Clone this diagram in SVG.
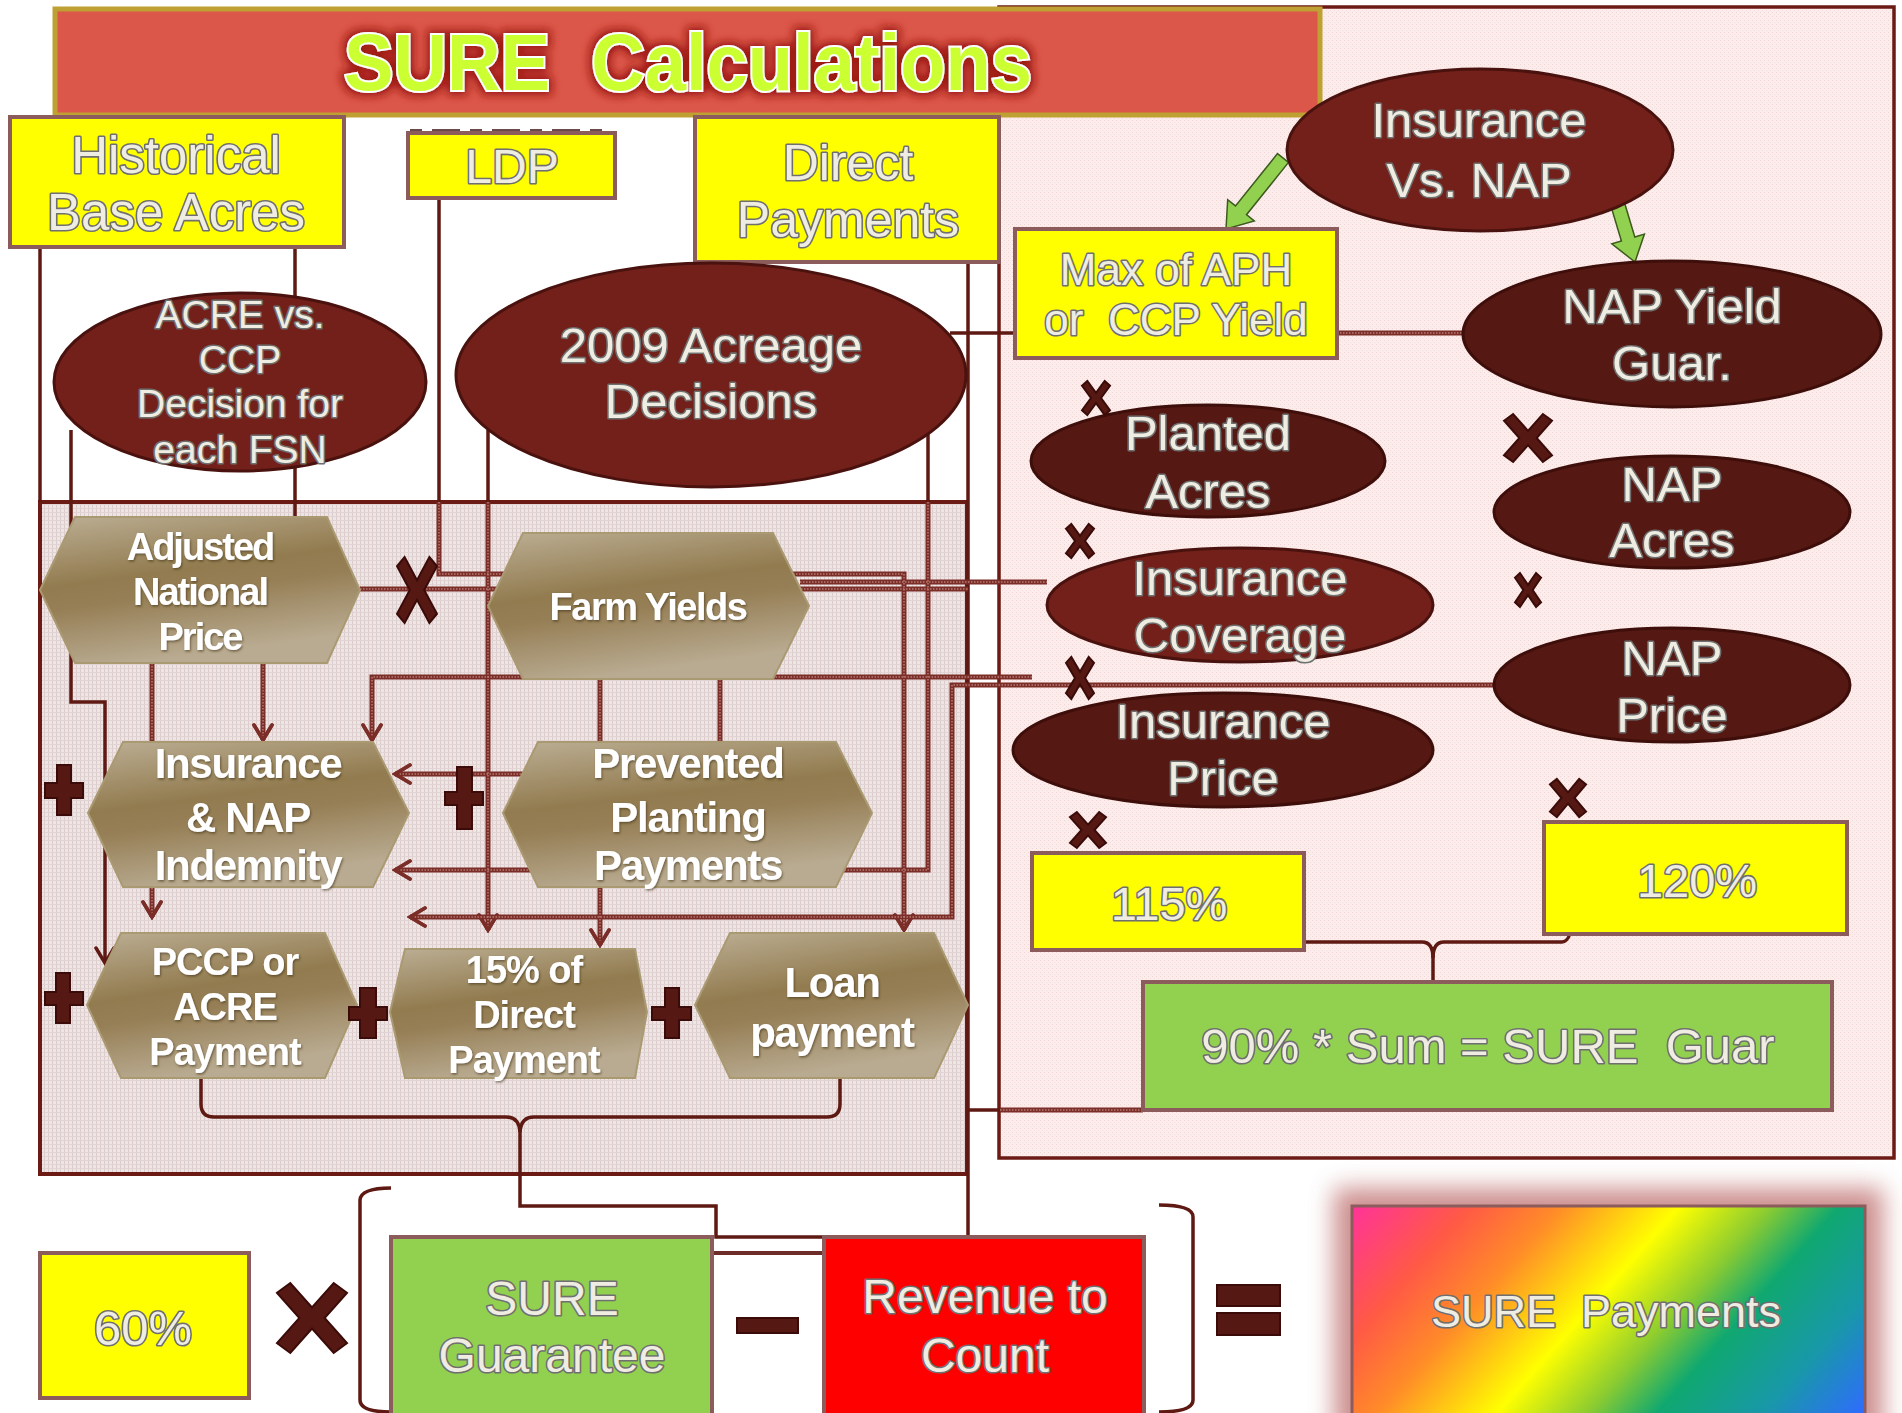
<svg xmlns="http://www.w3.org/2000/svg" xmlns:xlink="http://www.w3.org/1999/xlink" width="1902" height="1413" viewBox="0 0 1902 1413">
<defs>
<style>
.lt{font-family:"Liberation Sans",Arial,sans-serif;fill:#EFECE2;stroke:#6F6F6F;stroke-width:3.2;paint-order:stroke;stroke-linejoin:round;text-anchor:middle}
.ht{font-family:"Liberation Sans",Arial,sans-serif;font-weight:bold;fill:#FFFFFF;text-anchor:middle}
.yb{fill:#FFFF00;stroke:#8C5C5C;stroke-width:4}
.gb{fill:#92D050;stroke:#8C5C5C;stroke-width:4}
.e1{fill:#73201A;stroke:#4A120E;stroke-width:3}
.e2{fill:#561812;stroke:#3E0E0A;stroke-width:3}
.hx{fill:url(#hg);stroke:#AA9A72;stroke-width:2}
.cs{fill:none;stroke:#5E1913;stroke-width:3.5}
.mk{fill:#561812;stroke:#3A0B08;stroke-width:2}
.ga{fill:#92D050;stroke:#3D5A1E;stroke-width:1.5}
</style>
<pattern id="gp" width="4" height="4" patternUnits="userSpaceOnUse">
<rect width="4" height="4" fill="#EEE5E5"/><rect width="1" height="4" fill="#DCCBCB"/><rect width="4" height="1" fill="#E2D4D4"/>
</pattern>
<pattern id="pp" width="4" height="4" patternUnits="userSpaceOnUse">
<rect width="4" height="4" fill="#FCEDEC"/><rect width="1" height="1" fill="#EFD5D3"/><rect x="2" y="2" width="1" height="1" fill="#F3DDDB"/>
</pattern>
<linearGradient id="hg" x1="0" y1="0" x2="0.3" y2="1">
<stop offset="0" stop-color="#BCAF95"/><stop offset="0.45" stop-color="#927B4F"/><stop offset="0.6" stop-color="#967F56"/><stop offset="1" stop-color="#B9AB91"/>
</linearGradient>
<linearGradient id="rb" gradientUnits="userSpaceOnUse" x1="1352" y1="1206" x2="1743" y2="1552">
<stop offset="0" stop-color="#FF3399"/><stop offset="0.17" stop-color="#FF5A45"/><stop offset="0.3" stop-color="#FF8C28"/><stop offset="0.47" stop-color="#FFFF00"/><stop offset="0.6" stop-color="#8CCC30"/><stop offset="0.7" stop-color="#10A870"/><stop offset="0.85" stop-color="#1898A8"/><stop offset="1" stop-color="#2F6BFF"/>
</linearGradient>
<filter id="glow" x="-10%" y="-40%" width="120%" height="180%">
<feMorphology in="SourceAlpha" operator="dilate" radius="3" result="d"/>
<feGaussianBlur in="d" stdDeviation="4" result="b"/>
<feFlood flood-color="#9A1510" flood-opacity="0.95"/>
<feComposite in2="b" operator="in" result="g"/>
<feMerge><feMergeNode in="g"/><feMergeNode in="SourceGraphic"/></feMerge>
</filter>
<filter id="sh" x="-10%" y="-10%" width="120%" height="130%">
<feDropShadow dx="1" dy="1.5" stdDeviation="0.8" flood-color="#3A2A10" flood-opacity="0.6"/>
</filter>
<filter id="blur" x="-20%" y="-20%" width="140%" height="140%"><feGaussianBlur stdDeviation="12"/></filter>
<marker id="ar" viewBox="0 0 22 22" refX="19" refY="11" markerWidth="22" markerHeight="22" markerUnits="userSpaceOnUse" orient="auto">
<path d="M4,2 L19,11 L4,20" fill="none" stroke="#7B2D28" stroke-width="3.5" stroke-linecap="round"/>
</marker>
<marker id="ard" viewBox="0 0 22 22" refX="19" refY="11" markerWidth="22" markerHeight="22" markerUnits="userSpaceOnUse" orient="auto">
<path d="M4,2 L19,11 L4,20" fill="none" stroke="#5E1913" stroke-width="3.5" stroke-linecap="round"/>
</marker>
<path id="mx" vector-effect="non-scaling-stroke" d="M-1,-0.72 L-0.62,-1 L0,-0.3 L0.62,-1 L1,-0.72 L0.36,0 L1,0.72 L0.62,1 L0,0.3 L-0.62,1 L-1,0.72 L-0.36,0 Z"/>
<g id="plines" fill="none">
<path d="M439,502 V574 H904 V930" marker-end="url(#ar)"/>
<path d="M488,502 V930" marker-end="url(#ar)"/>
<path d="M928,502 V870 H395" marker-end="url(#ar)"/>
<path d="M360,589 H968"/>
<path d="M800,582 H1047"/>
<path d="M1032,677 H372 V740" marker-end="url(#ar)"/>
<path d="M1495,685 H952 V917 H410" marker-end="url(#ar)"/>
<path d="M560,774 H395" marker-end="url(#ar)"/>
<path d="M263,663 V740" marker-end="url(#ar)"/>
<path d="M152,663 V917" marker-end="url(#ar)"/>
<path d="M600,679 V945" marker-end="url(#ar)"/>
<path d="M720,679 V742"/>
<path d="M1337,333 H1463"/>
<path d="M1000,1110 H1143"/>
</g>
</defs>

<rect width="1902" height="1413" fill="#FFFFFF"/>

<g id="panels">
<rect x="999" y="7" width="895" height="1151" fill="url(#pp)" stroke="#6B1A14" stroke-width="3.5"/>
<rect x="40" y="502" width="927" height="672" fill="url(#gp)" stroke="#6B1A14" stroke-width="4"/>
</g>

<g id="connectors">
<path class="cs" d="M40,247 V502"/>
<path class="cs" d="M295,247 V517"/>
<path class="cs" d="M439,198 V502"/>
<path class="cs" d="M488,430 V502"/>
<path class="cs" d="M928,430 V502"/>
<path class="cs" d="M968,262 V1237"/>
<path class="cs" d="M968,1110 H1000"/>
<path class="cs" d="M950,333 H1015"/>
<path class="cs" d="M71,430 V702 H105 V963" marker-end="url(#ard)"/>
<use href="#plines" stroke="#7B2D28" stroke-width="5"/>
<use href="#plines" stroke="#B87A74" stroke-width="1.5" stroke-dasharray="1.5 1.5"/>
<path class="cs" stroke-width="5" d="M201,1078 V1104 Q201,1117 214,1117 H506 Q519,1117 520,1132 Q521,1117 534,1117 H827 Q840,1117 840,1104 V1078"/>
<path class="cs" stroke-width="5" d="M520,1125 V1206 H716 V1237 H872"/>
<path d="M712,1253 H824" stroke="#6E2C28" stroke-width="4" fill="none"/>
<path class="cs" d="M1287,902 Q1289,942 1300,942 H1422 Q1433,942 1433,958 Q1433,942 1444,942 H1562 Q1573,942 1575,902"/>
<path class="cs" d="M1433,950 V983"/>
<path class="cs" d="M391,1188 Q361,1188 360,1200 V1400 Q360,1412 391,1412"/>
<path class="cs" d="M1159,1205 Q1193,1205 1193,1217 V1400 Q1193,1412 1159,1412"/>
<path d="M410,131 H612" stroke="#6A4A4A" stroke-width="4" stroke-dasharray="12 10 28 10" fill="none"/>
<polygon class="ga" points="1288.5,162.4 1246.5,214.7 1254.3,220.9 1226,229 1227.7,199.7 1235.5,205.9 1277.5,153.6"/>
<polygon class="ga" points="1614.7,170 1634.8,237 1644.4,234.1 1635,262 1611.8,243.9 1621.4,241 1601.3,174"/>
</g>

<g id="title">
<rect x="55" y="9" width="1265" height="106" fill="#DB5749" stroke="#BFA032" stroke-width="5"/>
<text x="344" y="90" font-family="'Liberation Sans',Arial,sans-serif" font-weight="bold" font-size="80" fill="#CCFF33" stroke="#FFFFFF" stroke-width="4" paint-order="stroke" textLength="688" lengthAdjust="spacingAndGlyphs" filter="url(#glow)" xml:space="preserve">SURE  Calculations</text>
</g>

<g id="historical"><rect class="yb" x="10" y="117" width="334" height="130"/>
<text class="lt" font-size="51" x="176" y="173">Historical</text><text class="lt" font-size="51" x="176" y="230">Base Acres</text></g>

<g id="ldp"><rect class="yb" x="408" y="133" width="207" height="65"/>
<text class="lt" font-size="48" x="512" y="183">LDP</text></g>

<g id="direct"><rect class="yb" x="695" y="117" width="304" height="145"/>
<text class="lt" font-size="50" x="848" y="180">Direct</text><text class="lt" font-size="50" x="848" y="237">Payments</text></g>

<g id="acre"><ellipse class="e1" cx="240" cy="382" rx="186" ry="89"/>
<text class="lt" font-size="39" x="240" y="328">ACRE vs.</text><text class="lt" font-size="39" x="240" y="373">CCP</text><text class="lt" font-size="39" x="240" y="417">Decision for</text><text class="lt" font-size="39" x="240" y="463">each FSN</text></g>

<g id="acreage"><ellipse class="e1" cx="711" cy="375" rx="255" ry="112"/>
<text class="lt" font-size="49" x="711" y="362">2009 Acreage</text><text class="lt" font-size="49" x="711" y="418">Decisions</text></g>

<g id="insvsnap"><ellipse class="e1" cx="1480" cy="150" rx="193" ry="81"/>
<text class="lt" font-size="49" x="1479" y="137">Insurance</text><text class="lt" font-size="49" x="1479" y="197">Vs. NAP</text></g>

<g id="maxaph"><rect class="yb" x="1015" y="229" width="322" height="129"/>
<text class="lt" font-size="44" x="1176" y="285">Max of APH</text><text class="lt" font-size="44" x="1176" y="335" xml:space="preserve">or  CCP Yield</text></g>

<g id="napyield"><ellipse class="e2" cx="1672" cy="334" rx="209" ry="73"/>
<text class="lt" font-size="49" x="1672" y="323">NAP Yield</text><text class="lt" font-size="49" x="1672" y="380">Guar.</text></g>

<g id="planted"><ellipse class="e2" cx="1208" cy="461" rx="177" ry="56"/>
<text class="lt" font-size="49" x="1208" y="450">Planted</text><text class="lt" font-size="49" x="1208" y="508">Acres</text></g>

<g id="napacres"><ellipse class="e2" cx="1672" cy="512" rx="178" ry="56"/>
<text class="lt" font-size="49" x="1672" y="501">NAP</text><text class="lt" font-size="49" x="1672" y="557">Acres</text></g>

<g id="inscov"><ellipse class="e1" cx="1240" cy="605" rx="193" ry="57"/>
<text class="lt" font-size="49" x="1240" y="595">Insurance</text><text class="lt" font-size="49" x="1240" y="652">Coverage</text></g>

<g id="napprice"><ellipse class="e2" cx="1672" cy="685" rx="178" ry="57"/>
<text class="lt" font-size="49" x="1672" y="675">NAP</text><text class="lt" font-size="49" x="1672" y="732">Price</text></g>

<g id="insprice"><ellipse class="e2" cx="1223" cy="750" rx="210" ry="57"/>
<text class="lt" font-size="49" x="1223" y="738">Insurance</text><text class="lt" font-size="49" x="1223" y="795">Price</text></g>

<g id="p115"><rect class="yb" x="1032" y="853" width="272" height="97"/>
<text class="lt" font-size="47" x="1169" y="920">115%</text></g>

<g id="p120"><rect class="yb" x="1544" y="822" width="303" height="112"/>
<text class="lt" font-size="47" x="1697" y="897">120%</text></g>

<g id="sureguar"><rect class="gb" x="1143" y="982" width="689" height="128"/>
<text class="lt" font-size="49" x="1488" y="1063" xml:space="preserve">90% * Sum = SURE  Guar</text></g>

<g id="anp"><polygon class="hx" points="40,590 75,517 327,517 360,590 327,663 75,663"/>
<g class="ht" font-size="38" letter-spacing="-2" filter="url(#sh)"><text x="200" y="560">Adjusted</text><text x="200" y="605">National</text><text x="200" y="650">Price</text></g></g>

<g id="farm"><polygon class="hx" points="488,606 523,533 773,533 809,606 773,679 523,679"/>
<g class="ht" font-size="38" letter-spacing="-1.5" filter="url(#sh)"><text x="648" y="620">Farm Yields</text></g></g>

<g id="indemnity"><polygon class="hx" points="88,813 123,742 373,742 409,813 373,887 123,887"/>
<g class="ht" font-size="42" letter-spacing="-1.3" filter="url(#sh)"><text x="248" y="778">Insurance</text><text x="248" y="832">&amp; NAP</text><text x="248" y="880">Indemnity</text></g></g>

<g id="prevented"><polygon class="hx" points="503,813 538,742 836,742 872,813 836,887 538,887"/>
<g class="ht" font-size="42" letter-spacing="-1.3" filter="url(#sh)"><text x="688" y="778">Prevented</text><text x="688" y="832">Planting</text><text x="688" y="880">Payments</text></g></g>

<g id="pccp"><polygon class="hx" points="87,1005 121,933 325,933 357,1005 325,1078 121,1078"/>
<g class="ht" font-size="38" letter-spacing="-1" filter="url(#sh)"><text x="225" y="975">PCCP or</text><text x="225" y="1020">ACRE</text><text x="225" y="1065">Payment</text></g></g>

<g id="direct15"><polygon class="hx" points="390,1012 405,949 635,949 647,1012 635,1078 405,1078"/>
<g class="ht" font-size="38" letter-spacing="-1" filter="url(#sh)"><text x="524" y="983">15% of</text><text x="524" y="1028">Direct</text><text x="524" y="1073">Payment</text></g></g>

<g id="loan"><polygon class="hx" points="695,1005 730,933 934,933 968,1005 934,1078 730,1078"/>
<g class="ht" font-size="42" letter-spacing="-1.3" filter="url(#sh)"><text x="832" y="997">Loan</text><text x="832" y="1047">payment</text></g></g>

<g id="operators">
<use href="#mx" class="mk" transform="translate(417,590) scale(20,33)"/>
<use href="#mx" class="mk" transform="translate(1096,398) scale(14,17)"/>
<use href="#mx" class="mk" transform="translate(1528,438) scale(24,24)"/>
<use href="#mx" class="mk" transform="translate(1080,541) scale(14,17)"/>
<use href="#mx" class="mk" transform="translate(1528,590) scale(13,17)"/>
<use href="#mx" class="mk" transform="translate(1080,678) scale(14,21)"/>
<use href="#mx" class="mk" transform="translate(1088,830) scale(18,18)"/>
<use href="#mx" class="mk" transform="translate(1568,798) scale(18,19)"/>
<use href="#mx" class="mk" transform="translate(312,1318) scale(35,35)"/>
<path class="mk" d="M57,765 H71 V783 H83 V798 H71 V815 H57 V798 H45 V783 H57 Z"/>
<path class="mk" d="M457,767 H472 V792 H483 V805 H472 V829 H457 V805 H445 V792 H457 Z"/>
<path class="mk" d="M56,973 H70 V992 H83 V1005 H70 V1023 H56 V1005 H45 V992 H56 Z"/>
<path class="mk" d="M360,988 H376 V1007 H387 V1020 H376 V1038 H360 V1020 H349 V1007 H360 Z"/>
<path class="mk" d="M665,988 H679 V1007 H691 V1020 H679 V1038 H665 V1020 H652 V1007 H665 Z"/>
<rect class="mk" x="737" y="1318" width="61" height="15"/>
<rect class="mk" x="1217" y="1285" width="63" height="21"/>
<rect class="mk" x="1217" y="1313" width="63" height="22"/>
</g>

<g id="p60"><rect class="yb" x="40" y="1253" width="209" height="145"/>
<text class="lt" font-size="49" x="143" y="1345">60%</text></g>

<g id="sureguarantee"><rect class="gb" x="391" y="1237" width="321" height="190"/>
<text class="lt" font-size="48" x="552" y="1315">SURE</text><text class="lt" font-size="48" x="552" y="1372">Guarantee</text></g>

<g id="revenue"><rect x="824" y="1237" width="320" height="190" fill="#FF0000" stroke="#8C5C5C" stroke-width="4"/>
<text class="lt" font-size="48" x="985" y="1313">Revenue to</text><text class="lt" font-size="48" x="985" y="1372">Count</text></g>

<g id="payments">
<rect x="1334" y="1188" width="549" height="270" fill="#C47A7A" opacity="0.85" filter="url(#blur)"/>
<rect x="1352" y="1206" width="513" height="230" fill="url(#rb)" stroke="#8C5C5C" stroke-width="3"/>
<text class="lt" font-size="45" x="1606" y="1327" xml:space="preserve">SURE  Payments</text></g>
</svg>
